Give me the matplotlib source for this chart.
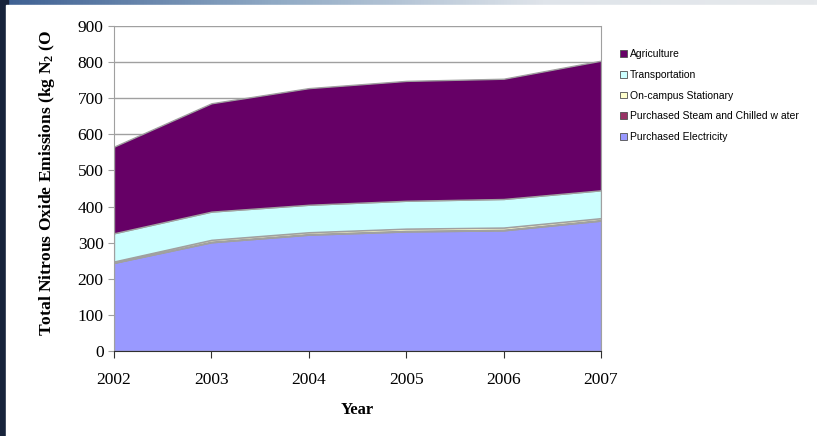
import numpy as np
import matplotlib
matplotlib.use("Agg")
import matplotlib.pyplot as plt
from matplotlib.patches import Patch, Rectangle

# Nitrous oxide emissions by source (kg N2O)
years = [2002, 2003, 2004, 2005, 2006, 2007]
electricity = [244, 301, 322, 331, 334, 361]
steam_chilled = [1, 2, 2, 2, 2, 2]
stationary = [3, 5, 5, 6, 6, 5]
transportation = [78, 78, 76, 77, 79, 77]
agriculture = [240, 300, 323, 332, 333, 359]

series = [electricity, steam_chilled, stationary, transportation, agriculture]
names = ["Purchased Electricity", "Purchased Steam and Chilled w ater",
         "On-campus Stationary", "Transportation", "Agriculture"]
colors = ["#9999FF", "#993366", "#FFFFCC", "#CCFFFF", "#660066"]
y_ticks = list(range(0, 901, 100))

plt.rcParams["mathtext.fontset"] = "custom"
plt.rcParams["mathtext.rm"] = "Liberation Serif:bold"
plt.rcParams["mathtext.it"] = "Liberation Serif:bold"
plt.rcParams["mathtext.bf"] = "Liberation Serif:bold"

fig = plt.figure(figsize=(8.17, 4.36), dpi=100)

# slide background: dark strip on the left, gradient strip on top
bg = fig.add_axes([0, 0, 1, 1], zorder=-10)
grad = np.linspace(0, 1, 256).reshape(1, -1)
bg.imshow(grad, aspect="auto", extent=[0, 1, 0, 1],
          cmap=matplotlib.colors.LinearSegmentedColormap.from_list(
              "slide", ["#3d5f92", "#8fa9c4", "#dfe4ea", "#e6e9ec"]))
bg.add_patch(Rectangle((0, 0), 0.01, 1, color="#17233b"))
bg.add_patch(Rectangle((6 / 817, 0), 1, 1 - 5 / 436, color="white"))
bg.set_xlim(0, 1)
bg.set_ylim(0, 1)
bg.axis("off")

ax = fig.add_axes([114 / 817, 1 - 351 / 436, 487 / 817, 325 / 436])
ax.stackplot(years, series, colors=colors, edgecolor="#a0a0a0",
             linewidth=1, zorder=3)

ax.set_xlim(years[0], years[-1])
ax.set_ylim(0, 900)
ax.set_yticks(y_ticks)
ax.set_xticks(years)
ax.grid(axis="y", color="#a0a0a0", linewidth=1, zorder=0)
ax.set_axisbelow(True)

for side in ["left", "right", "top"]:
    ax.spines[side].set_color("#a0a0a0")
ax.spines["top"].set_visible(False)
ax.spines["bottom"].set_color("#303030")
ax.spines["bottom"].set_zorder(5)

serif = "Liberation Serif"
ax.tick_params(axis="y", colors="#a0a0a0", labelcolor="black", length=4,
               direction="out", labelsize=12.5)
ax.tick_params(axis="x", colors="#303030", labelcolor="black", length=5,
               direction="out", labelsize=12.5, pad=10)
for lab in ax.get_xticklabels() + ax.get_yticklabels():
    lab.set_fontfamily(serif)

ax.set_xlabel("Year", fontfamily=serif, fontweight="bold", fontsize=12,
              labelpad=10)
fig.text(47 / 817, 1 - 183 / 436, r"Total Nitrous Oxide Emissions (kg N$_{2}$ (O",
         rotation=90, ha="center", va="center", fontfamily=serif,
         fontweight="bold", fontsize=12.6)

handles = [Patch(facecolor=c, edgecolor="#505050", linewidth=0.6)
           for c in colors]
fig.legend(handles[::-1], names[::-1], loc="upper left",
           bbox_to_anchor=(611 / 817, 1 - 40 / 436), frameon=False,
           prop={"family": "Liberation Sans", "size": 7.5},
           handlelength=0.6, handleheight=0.6, handletextpad=0.35,
           labelspacing=1.02)

fig.savefig("out.png", dpi=100)
